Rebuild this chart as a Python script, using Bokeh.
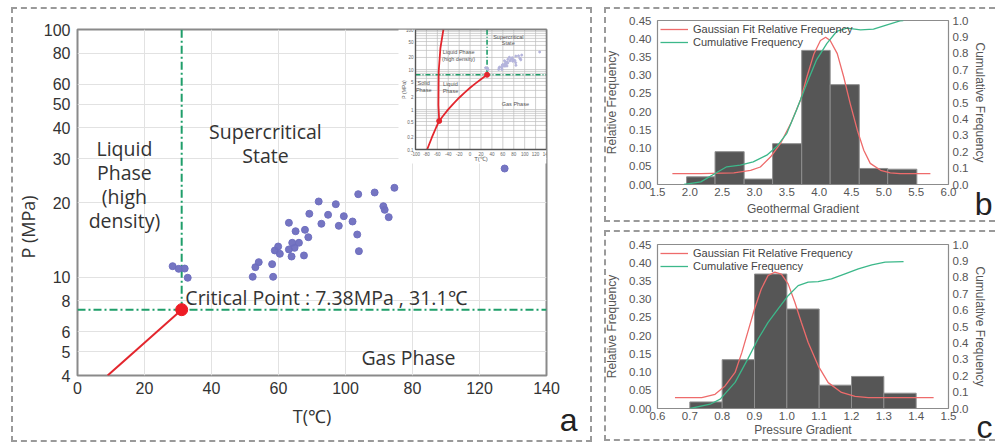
import math
from bokeh.plotting import figure
from bokeh.layouts import row, column
from bokeh.models import (Range1d, LogScale, LinearAxis, FixedTicker, PrintfTickFormatter,
                          Title, Legend, LegendItem, InlineStyleSheet)
from bokeh.embed import file_html
from bokeh.resources import INLINE
from bokeh.core.properties import value

SANS = "Liberation Sans"
HUMAN = "Open Sans"

# ---------------- Panel a : CO2 phase diagram ----------------
sample_T = [28.4, 30.2, 32.0, 32.9, 52.3, 53.1, 54.1, 58.4, 58.1, 58.9, 59.9, 60.4,
            63.1, 63.9, 64.1, 64.8, 66.1, 65.1, 63.1, 67.6, 67.9, 68.9, 69.2, 72.0,
            72.8, 74.8, 77.1, 78.0, 79.5, 82.1, 83.5, 84.0, 83.8, 88.7, 91.3, 91.7,
            92.9, 94.6, 127.5]
sample_P = [11.06, 10.79, 10.82, 9.93, 10.02, 10.96, 11.48, 10.02, 11.27, 12.80, 13.28, 12.41,
            12.92, 12.10, 13.75, 13.12, 13.75, 15.31, 16.56, 12.22, 15.51, 14.48, 18.01, 20.19,
            16.41, 17.84, 19.69, 16.10, 17.61, 16.76, 14.85, 12.72, 21.61, 21.95, 19.32, 18.68,
            17.45, 22.93, 27.44]
critical_T = 31.1
critical_P = 7.38
boundary_T = [9.0, 31.1]
boundary_P = [4.0, 7.38]
a_x_range = (0, 140)
a_y_range = (4, 100)
a_x_ticks = [0, 20, 40, 60, 80, 100, 120, 140]
a_x_tick_labels = ["0", "20", "40", "60", "100", "80", "120", "140"]
a_y_ticks = [4, 5, 6, 8, 10, 20, 30, 40, 50, 60, 80, 100]
a_y_tick_labels = ["4", "5", "6", "8", "10", "20", "30", "40", "50", "60", "80", "100"]

phase_text = ["Liquid\nPhase\n(high\ndensity)", "Supercritical\nState", "Gas Phase"]
phase_text_T = [14.0, 56.1, 98.8]
phase_text_P = [23.6, 34.6, 4.73]
critical_text = "Critical Point : 7.38MPa , 31.1\u2103"
critical_text_T = 32.2
critical_text_P = 8.3

# inset: full CO2 phase diagram
inset_x_range = (-100, 140)
inset_y_range = (0.1, 100)
inset_x_ticks = [-100, -80, -60, -40, -20, 0, 20, 40, 60, 80, 100, 120, 140]
inset_y_grid = [0.1, 0.2, 0.3, 0.4, 0.5, 0.6, 0.7, 0.8, 0.9, 1, 2, 3, 4, 5, 6, 7, 8, 9,
                10, 20, 30, 40, 50, 60, 70, 80, 90, 100]
inset_y_labels = [0.1, 0.2, 0.5, 1, 2, 5, 10, 20, 50, 100]
sub_T = [-78.5, -70.0, -62.0, -56.6]
sub_P = [0.1013, 0.20, 0.36, 0.518]
melt_T = [-56.6, -58.0, -57.5, -54.4, -49.5, -48.8]
melt_P = [0.518, 1.3, 8.9, 34.0, 89.0, 100.0]
vap_T = [-56.6, -50, -40, -30, -20, -10, 0, 10, 20, 31.1]
vap_P = [0.518, 0.68, 1.005, 1.43, 1.97, 2.65, 3.49, 4.50, 5.73, 7.38]
triple_T = -56.6
triple_P = 0.518
inset_text = ["Supercritical\nState", "Liquid Phase\n(high density)", "Solid\nPhase",
              "Liquid\nPhase", "Gas Phase"]
inset_text_T = [70.0, -21.0, -85.0, -36.0, 83.0]
inset_text_P = [54.6, 22.4, 3.76, 3.55, 1.41]

# ---------------- Panel b : geothermal gradient ----------------
geo_edges = [1.95, 2.39, 2.84, 3.28, 3.73, 4.17, 4.62, 5.06, 5.51]
geo_freq = [0.021, 0.090, 0.015, 0.112, 0.368, 0.274, 0.044, 0.042]
geo_fit_x = [1.73, 2.17, 2.68, 2.94, 3.09, 3.25, 3.40, 3.56, 3.71, 3.81, 3.92, 4.02, 4.10,
             4.17, 4.28, 4.38, 4.48, 4.59, 4.69, 4.79, 4.95, 5.10, 5.25, 5.72]
geo_fit_y = [0.030, 0.030, 0.032, 0.039, 0.048, 0.076, 0.112, 0.167, 0.231, 0.295, 0.359,
             0.395, 0.404, 0.395, 0.359, 0.295, 0.222, 0.149, 0.094, 0.058, 0.039, 0.032,
             0.030, 0.030]
geo_cum_x = [1.91, 2.17, 2.39, 2.57, 2.78, 2.98, 3.19, 3.34, 3.50, 3.65, 3.81, 3.96, 4.12,
             4.27, 4.43, 4.64, 4.84, 5.05, 5.25, 5.30]
geo_cum_y = [0.0, 0.016, 0.067, 0.108, 0.118, 0.138, 0.179, 0.230, 0.312, 0.454, 0.617,
             0.760, 0.861, 0.933, 0.953, 0.943, 0.947, 0.974, 0.998, 1.0]
geo_x_range = (1.5, 6.0)
geo_x_ticks = [1.5, 2.0, 2.5, 3.0, 3.5, 4.0, 4.5, 5.0, 5.5, 6.0]

# ---------------- Panel c : pressure gradient ----------------
pres_edges = [0.7, 0.8, 0.9, 1.0, 1.1, 1.2, 1.3, 1.4]
pres_freq = [0.018, 0.134, 0.369, 0.273, 0.064, 0.088, 0.042]
pres_fit_x = [0.654, 0.737, 0.778, 0.809, 0.840, 0.861, 0.879, 0.900, 0.921, 0.942, 0.963,
              0.983, 1.004, 1.025, 1.045, 1.066, 1.097, 1.128, 1.169, 1.211, 1.252, 1.454]
pres_fit_y = [0.030, 0.030, 0.039, 0.062, 0.099, 0.154, 0.209, 0.273, 0.328, 0.365, 0.374,
              0.369, 0.342, 0.291, 0.236, 0.181, 0.117, 0.071, 0.044, 0.033, 0.030, 0.030]
pres_cum_x = [0.701, 0.763, 0.794, 0.840, 0.879, 0.911, 0.942, 0.973, 1.004, 1.035, 1.066,
              1.097, 1.138, 1.180, 1.221, 1.263, 1.304, 1.361]
pres_cum_y = [0.0, 0.026, 0.057, 0.159, 0.301, 0.424, 0.525, 0.607, 0.688, 0.749, 0.770,
              0.774, 0.790, 0.821, 0.851, 0.876, 0.892, 0.896]
pres_x_range = (0.6, 1.5)
pres_x_ticks = [0.6, 0.7, 0.8, 0.9, 1.0, 1.1, 1.2, 1.3, 1.4, 1.5]

freq_ticks = [0.0, 0.05, 0.10, 0.15, 0.20, 0.25, 0.30, 0.35, 0.40, 0.45]
cum_ticks = [0.0, 0.1, 0.2, 0.3, 0.4, 0.5, 0.6, 0.7, 0.8, 0.9, 1.0]

# ---------------- colours ----------------
RED = "#e3262d"
GREEN = "#1f9e6a"
DOT = "#6e6ebf"
BORDER = "#9a9a9a"


def dashed_border(p, left, top, right, bottom, right_side=True):
    css = (":host { position: relative; }\n"
           ":host::after { content: ''; position: absolute; left: %dpx; top: %dpx; "
           "right: %dpx; bottom: %dpx; border: 2px dashed %s; %s pointer-events: none; "
           "z-index: 50; }" % (left, top, right, bottom, BORDER,
                              "" if right_side else "border-right: none;"))
    p.stylesheets = [InlineStyleSheet(css=css)]


def panel_letter(p, letter, offset, standoff):
    p.add_layout(Title(text=letter, align="right", vertical_align="top", offset=offset,
                       standoff=standoff, text_font=SANS, text_font_size="32px",
                       text_font_style="normal", text_color="#222222"), "below")


# ================= Panel a =================
A_W, A_H = 598, 446
MB_L, MB_R, MB_T, MB_B = 77, 52, 29, 71
FRAME_W = A_W - MB_L - MB_R
FRAME_H = A_H - MB_T - MB_B
INSET_PX = dict(left=338, right=469, top=0, bottom=120)

pa = figure(width=A_W, height=A_H, x_range=Range1d(*a_x_range), y_range=Range1d(*a_y_range),
            y_axis_type="log", output_backend="svg", toolbar_location=None,
            min_border_left=MB_L, min_border_right=MB_R, min_border_top=MB_T,
            min_border_bottom=MB_B)
pa.outline_line_color = "#8a8a8a"
pa.outline_line_width = 2
pa.background_fill_color = "white"

pa.xaxis.ticker = FixedTicker(ticks=a_x_ticks)
pa.xaxis.major_label_overrides = dict(zip(a_x_ticks, a_x_tick_labels))
pa.yaxis.ticker = FixedTicker(ticks=a_y_ticks)
pa.yaxis.major_label_overrides = dict(zip(a_y_ticks, a_y_tick_labels))
for ax in (pa.xaxis[0], pa.yaxis[0]):
    ax.axis_line_color = None
    ax.major_tick_line_color = None
    ax.minor_tick_line_color = None
    ax.major_tick_out = 0
    ax.major_tick_in = 0
    ax.minor_tick_out = 0
    ax.major_label_text_font = SANS
    ax.major_label_text_font_size = "16px"
    ax.major_label_text_color = "#333333"
    ax.axis_label_text_font = HUMAN
    ax.axis_label_text_font_size = "18px"
    ax.axis_label_text_font_style = "normal"
    ax.axis_label_text_color = "#333333"
pa.xaxis.axis_label = "T(\u2103)"
pa.xaxis.major_label_standoff = 6
pa.xaxis.axis_label_standoff = 7
pa.yaxis.major_label_standoff = 7
# y-axis title, placed off-centre as in the reference
pa.add_layout(Title(text="P (MPa)", align="left", vertical_align="bottom", offset=117,
                    standoff=2, text_font=HUMAN, text_font_size="18px",
                    text_font_style="normal", text_color="#333333"), "left")
pa.xgrid.grid_line_color = "#e2e2e2"
pa.ygrid.grid_line_color = "#e2e2e2"

# phase boundaries and critical point
pa.line(boundary_T, boundary_P, line_color=RED, line_width=2)
pa.line([critical_T, critical_T], [critical_P, a_y_range[1]], line_color=GREEN,
        line_width=2, line_dash="8 3 2 3")
pa.line([a_x_range[0], a_x_range[1]], [critical_P, critical_P], line_color=GREEN,
        line_width=2, line_dash="8 3 2 3")
pa.scatter(sample_T, sample_P, size=7, color=DOT, alpha=0.95)
pa.scatter([critical_T], [critical_P], size=12, color="#ee1c25")

pa.text(phase_text_T[:2], phase_text_P[:2], text=phase_text[:2], text_font=value(HUMAN),
        text_font_size="19.5px", text_color="#333333", text_align="center",
        text_baseline="middle", text_line_height=0.89)
pa.text([phase_text_T[2]], [phase_text_P[2]], text=[phase_text[2]], text_font=value(HUMAN),
        text_font_size="19.5px", text_color="#333333", text_align="center",
        text_baseline="middle")
pa.text([critical_text_T], [critical_text_P], text=[critical_text], text_font=value(HUMAN),
        text_font_size="19.5px", text_color="#333333", text_align="left",
        text_baseline="middle")

# ---- inset (drawn in its own coordinate system inside the frame)
ix0, ix1 = inset_x_range
upp = (ix1 - ix0) / (INSET_PX["right"] - INSET_PX["left"])
ly0, ly1 = math.log10(inset_y_range[0]), math.log10(inset_y_range[1])
dpp = (ly1 - ly0) / (INSET_PX["bottom"] - INSET_PX["top"])
pa.extra_x_ranges = {"ix": Range1d(ix0 - INSET_PX["left"] * upp,
                                   ix1 + (FRAME_W - INSET_PX["right"]) * upp)}
pa.extra_y_ranges = {"iy": Range1d(10 ** (ly0 - (FRAME_H - INSET_PX["bottom"]) * dpp),
                                   10 ** (ly1 + INSET_PX["top"] * dpp))}
pa.extra_y_scales = {"iy": LogScale()}
IN = dict(x_range_name="ix", y_range_name="iy")

pa.quad(left=[ix0 - 17 * upp], right=[ix1], bottom=[10 ** (ly0 - 14 * dpp)],
        top=[inset_y_range[1]], fill_color="white", line_color=None, **IN)
pa.segment(x0=inset_x_ticks, y0=[inset_y_range[0]] * len(inset_x_ticks),
           x1=inset_x_ticks, y1=[inset_y_range[1]] * len(inset_x_ticks),
           line_color="#bdbdbd", line_width=0.7, **IN)
pa.segment(x0=[ix0] * len(inset_y_grid), y0=inset_y_grid, x1=[ix1] * len(inset_y_grid),
           y1=inset_y_grid, line_color="#bdbdbd", line_width=0.7, **IN)
pa.line([critical_T, critical_T], [critical_P, inset_y_range[1]], line_color=GREEN,
        line_width=1.6, line_dash="5 2 1 2", **IN)
pa.line([ix0, ix1], [critical_P, critical_P], line_color=GREEN, line_width=1.6,
        line_dash="5 2 1 2", **IN)
pa.line(sub_T, sub_P, line_color=RED, line_width=1.8, **IN)
pa.line(melt_T, melt_P, line_color=RED, line_width=1.8, **IN)
pa.line(vap_T, vap_P, line_color=RED, line_width=1.8, **IN)
pa.scatter([critical_T, triple_T], [critical_P, triple_P], size=5, color=RED, **IN)
pa.scatter(sample_T, sample_P, size=2, color="#b4b4dc", **IN)
pa.quad(left=[ix0], right=[ix1], bottom=[inset_y_range[0]], top=[inset_y_range[1]],
        fill_color=None, line_color="#555555", line_width=1.4, **IN)
pa.text(inset_text_T, inset_text_P, text=inset_text, text_font=value(SANS),
        text_font_size="5.5px", text_color="#555555", text_align="center",
        text_baseline="middle", text_line_height=1.15, **IN)
pa.text(inset_x_ticks, [10 ** (ly0 - 2 * dpp)] * len(inset_x_ticks),
        text=[str(t) for t in inset_x_ticks], text_font=value(SANS), text_font_size="4.5px",
        text_color="#666666", text_align="center", text_baseline="top", **IN)
pa.text([ix0 - 2 * upp] * len(inset_y_labels), inset_y_labels,
        text=[("%g" % v) for v in inset_y_labels], text_font=value(SANS),
        text_font_size="4.5px", text_color="#666666", text_align="right",
        text_baseline="middle", **IN)
pa.text([(ix0 + ix1) / 2], [10 ** (ly0 - 9 * dpp)], text=["T(\u2103)"], text_font=value(SANS),
        text_font_size="6px", text_color="#555555", text_align="center",
        text_baseline="middle", **IN)
pa.text([ix0 - 12 * upp], [10 ** ((ly0 + ly1) / 2)], text=["P (MPa)"], text_font=value(SANS),
        text_font_size="5px", text_color="#555555", text_align="center",
        text_baseline="middle", angle=math.pi / 2, **IN)

panel_letter(pa, "a", -31, -58)
dashed_border(pa, 11, 7, 6, 4)


# ================= Panels b and c =================
def hist_panel(edges, freq, fit_x, fit_y, cum_x, cum_y, x_range, x_ticks, xlabel,
               height, top, bottom, label_standoff):
    p = figure(width=397, height=height, x_range=Range1d(*x_range), y_range=Range1d(0, 0.45),
               output_backend="svg", toolbar_location=None,
               min_border_left=59, min_border_right=47, min_border_top=top,
               min_border_bottom=bottom)
    p.extra_y_ranges = {"cum": Range1d(0, 1.0)}
    p.outline_line_color = "#8c8c8c"
    p.outline_line_width = 1.2
    p.xgrid.grid_line_color = None
    p.ygrid.grid_line_color = None
    p.quad(left=edges[:-1], right=edges[1:], bottom=0, top=freq, fill_color="#565656",
           line_color="#8e8e8e", line_width=1)
    r_fit = p.line(fit_x, fit_y, line_color="#ee6b6b", line_width=1.3)
    r_cum = p.line(cum_x, cum_y, y_range_name="cum", line_color="#3cb88a", line_width=1.3)
    right = LinearAxis(y_range_name="cum", axis_label="Cumulative Frequency")
    p.add_layout(right, "right")
    p.xaxis.ticker = FixedTicker(ticks=x_ticks)
    p.xaxis.formatter = PrintfTickFormatter(format="%.1f")
    p.xaxis.axis_label = xlabel
    p.yaxis[0].ticker = FixedTicker(ticks=freq_ticks)
    p.yaxis[0].formatter = PrintfTickFormatter(format="%.2f")
    p.yaxis[0].axis_label = "Relative Frequency"
    right.ticker = FixedTicker(ticks=cum_ticks)
    right.formatter = PrintfTickFormatter(format="%.1f")
    for ax in (p.xaxis[0], p.yaxis[0], right):
        ax.axis_line_color = None
        ax.major_tick_line_color = None
        ax.minor_tick_line_color = None
        ax.major_tick_out = 0
        ax.major_tick_in = 0
        ax.minor_tick_out = 0
        ax.major_label_text_font = SANS
        ax.major_label_text_font_size = "11.5px"
        ax.major_label_text_color = "#555555"
        ax.axis_label_text_font = SANS
        ax.axis_label_text_font_size = "12px"
        ax.axis_label_text_font_style = "normal"
        ax.axis_label_text_color = "#555555"
    p.xaxis.major_label_standoff = 3
    p.xaxis.axis_label_standoff = label_standoff
    p.yaxis[0].major_label_standoff = 6
    p.yaxis[0].axis_label_standoff = 7
    right.major_label_standoff = 4
    right.axis_label_standoff = 2
    legend = Legend(items=[LegendItem(label="Gaussian Fit Relative Frequency", renderers=[r_fit]),
                           LegendItem(label="Cumulative Frequency", renderers=[r_cum])],
                    location="top_left", border_line_color=None, background_fill_alpha=0,
                    label_text_font=SANS, label_text_font_size="11px",
                    label_text_color="#444444", glyph_width=28, glyph_height=12,
                    label_height=12, spacing=1, padding=3, margin=3, label_standoff=5)
    p.add_layout(legend)
    return p


pb = hist_panel(geo_edges, geo_freq, geo_fit_x, geo_fit_y, geo_cum_x, geo_cum_y, geo_x_range,
                geo_x_ticks, "Geothermal Gradient", 226, 20, 42, 3)
panel_letter(pb, "b", -44, -65)
dashed_border(pb, 6, 7, 0, 4, right_side=False)

pc = hist_panel(pres_edges, pres_freq, pres_fit_x, pres_fit_y, pres_cum_x, pres_cum_y,
                pres_x_range, pres_x_ticks, "Pressure Gradient", 220, 18, 38, 0)
panel_letter(pc, "c", -44, -61)
dashed_border(pc, 6, 4, 0, 5, right_side=False)

layout = row(pa, column(pb, pc))
open("out.html", "w").write(file_html(layout, INLINE))
